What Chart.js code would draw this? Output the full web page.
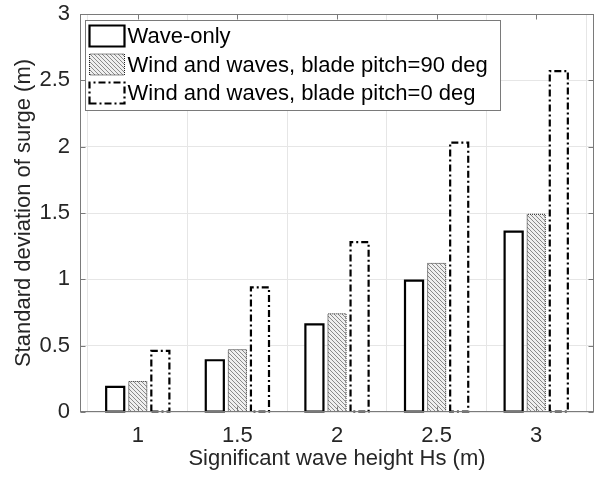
<!DOCTYPE html>
<html>
<head>
<meta charset="utf-8">
<script src="https://cdn.jsdelivr.net/npm/chart.js@4/dist/chart.umd.min.js"></script>
<style>
  html, body { margin: 0; padding: 0; background: #fff; }
  #wrap { width: 595px; height: 483px; }
</style>
</head>
<body>
<div id="wrap"><canvas id="surgeChart"></canvas></div>
<script>
// --- Data ---
const waveHeights = [1, 1.5, 2, 2.5, 3];
const waveOnly = [0.19, 0.39, 0.66, 0.99, 1.36];
const pitch90 = [0.23, 0.47, 0.74, 1.12, 1.49];
const pitch0 = [0.46, 0.94, 1.28, 2.03, 2.57];
const seriesNames = ['Wave-only', 'Wind and waves, blade pitch=90 deg', 'Wind and waves, blade pitch=0 deg'];
const yTicks = [0, 0.5, 1, 1.5, 2, 2.5, 3];

const FONT = '"Liberation Sans", Arial, sans-serif';

// --- Helper Functions ---
function toPoints(values) {
    return values.map((v, i) => ({ x: waveHeights[i], y: v }));
}

function makeHatch() {
    const c = document.createElement('canvas');
    c.width = 4; c.height = 4;
    const g = c.getContext('2d');
    g.fillStyle = '#efefef';
    g.fillRect(0, 0, 4, 4);
    g.strokeStyle = '#8a8a8a';
    g.lineWidth = 1;
    g.beginPath();
    g.moveTo(-1, -1); g.lineTo(5, 5);
    g.moveTo(-1, 3); g.lineTo(1, 5);
    g.moveTo(3, -1); g.lineTo(5, 1);
    g.stroke();
    return g.createPattern(c, 'repeat');
}

const hatch = makeHatch();

// outline styles per series (MATLAB-like)
const outlineStyles = [
    { width: 2.2, dash: [], color: '#000' },
    { width: 1, dash: [1, 1], color: '#222' },
    { width: 2.2, dash: [7, 3, 2, 3], color: '#000' }
];
const fills = ['#ffffff', hatch, '#ffffff'];

function strokeRectStyled(ctx, x, y, w, h, st) {
    ctx.save();
    ctx.lineWidth = st.width;
    ctx.strokeStyle = st.color;
    ctx.setLineDash(st.dash);
    ctx.beginPath();
    ctx.moveTo(x, y + h);
    ctx.lineTo(x, y);
    ctx.lineTo(x + w, y);
    ctx.lineTo(x + w, y + h);
    ctx.closePath();
    ctx.stroke();
    ctx.restore();
}

// --- Plugin: bar outlines, axes box, legend ---
const matlabLook = {
    id: 'matlabLook',
    afterDatasetsDraw(chart) {
        const ctx = chart.ctx;
        chart.data.datasets.forEach((ds, i) => {
            const meta = chart.getDatasetMeta(i);
            meta.data.forEach(bar => {
                const p = bar.getProps(['x', 'y', 'base', 'width'], true);
                strokeRectStyled(ctx, p.x - p.width / 2, p.y, p.width, p.base - p.y, outlineStyles[i]);
            });
        });
    },
    afterDraw(chart) {
        const ctx = chart.ctx;
        const a = chart.chartArea;
        const xs = chart.scales.x, ys = chart.scales.y;
        const L = Math.round(a.left) + 0.5, R = Math.round(a.right) - 0.5;
        const T = Math.round(a.top) + 0.5, B = Math.round(a.bottom) - 0.5;

        ctx.save();
        ctx.strokeStyle = '#7a7a7a';
        ctx.lineWidth = 1;
        ctx.strokeRect(L, T, R - L, B - T);
        // inward ticks
        ctx.beginPath();
        waveHeights.forEach(v => {
            const px = Math.round(xs.getPixelForValue(v)) + 0.5;
            ctx.moveTo(px, B); ctx.lineTo(px, B - 5);
            ctx.moveTo(px, T); ctx.lineTo(px, T + 5);
        });
        yTicks.forEach(v => {
            const py = Math.round(ys.getPixelForValue(v)) + 0.5;
            ctx.moveTo(L, py); ctx.lineTo(L + 5, py);
            ctx.moveTo(R, py); ctx.lineTo(R - 5, py);
        });
        ctx.stroke();

        // legend
        const lx = L + 5, ly = T + 6, lw = 415, lh = 90;
        ctx.fillStyle = '#fff';
        ctx.fillRect(lx, ly, lw, lh);
        ctx.strokeStyle = '#7a7a7a';
        ctx.strokeRect(lx, ly, lw, lh);
        ctx.font = '22px ' + FONT;
        ctx.textBaseline = 'middle';
        seriesNames.forEach((name, i) => {
            const rowY = ly + 5 + i * 28.5;
            const bx = lx + 4, bw = 35, bh = 21;
            ctx.fillStyle = fills[i];
            ctx.fillRect(bx, rowY, bw, bh);
            strokeRectStyled(ctx, bx, rowY, bw, bh, outlineStyles[i]);
            ctx.fillStyle = '#000';
            ctx.fillText(name, bx + bw + 3, rowY + bh / 2 + 1);
        });
        ctx.restore();
    }
};

// --- Chart Rendering ---
const ctx = document.getElementById('surgeChart').getContext('2d');
const surgeChart = new Chart(ctx, {
    type: 'bar',
    data: {
        datasets: [
            { label: seriesNames[0], data: toPoints(waveOnly), backgroundColor: fills[0], borderWidth: 0 },
            { label: seriesNames[1], data: toPoints(pitch90), backgroundColor: fills[1], borderWidth: 0 },
            { label: seriesNames[2], data: toPoints(pitch0), backgroundColor: fills[2], borderWidth: 0 }
        ]
    },
    options: {
        responsive: true,
        maintainAspectRatio: false,
        animation: false,
        categoryPercentage: 0.68,
        barPercentage: 0.8,
        layout: { padding: { top: 14, right: 1, left: 0, bottom: 0 } },
        plugins: { legend: { display: false }, tooltip: { enabled: false } },
        scales: {
            x: {
                type: 'linear',
                min: 0.71,
                max: 3.29,
                offset: false,
                afterBuildTicks: scale => { scale.ticks = waveHeights.map(v => ({ value: v })); },
                afterFit: scale => { scale.height = 71; },
                grid: { color: '#e6e6e6', drawTicks: false },
                border: { display: false },
                ticks: {
                    padding: 11,
                    color: '#262626',
                    font: { family: FONT, size: 22 },
                    callback: v => String(v)
                },
                title: {
                    display: true,
                    text: 'Significant wave height Hs (m)',
                    color: '#262626',
                    font: { family: FONT, size: 22 },
                    padding: { top: 11, bottom: 11 }
                }
            },
            y: {
                min: 0,
                max: 3,
                afterBuildTicks: scale => { scale.ticks = yTicks.map(v => ({ value: v })); },
                afterFit: scale => {
                    scale.width = 80;
                    scale.paddingTop = 0;
                    scale.paddingBottom = 0;
                },
                grid: { color: '#e6e6e6', drawTicks: false },
                border: { display: false },
                ticks: {
                    padding: 10,
                    color: '#262626',
                    font: { family: FONT, size: 22 },
                    callback: v => String(v)
                },
                title: {
                    display: true,
                    text: 'Standard deviation of surge (m)',
                    color: '#262626',
                    font: { family: FONT, size: 22 },
                    padding: { top: 11, bottom: 11 }
                }
            }
        }
    },
    plugins: [matlabLook]
});
</script>
</body>
</html>
